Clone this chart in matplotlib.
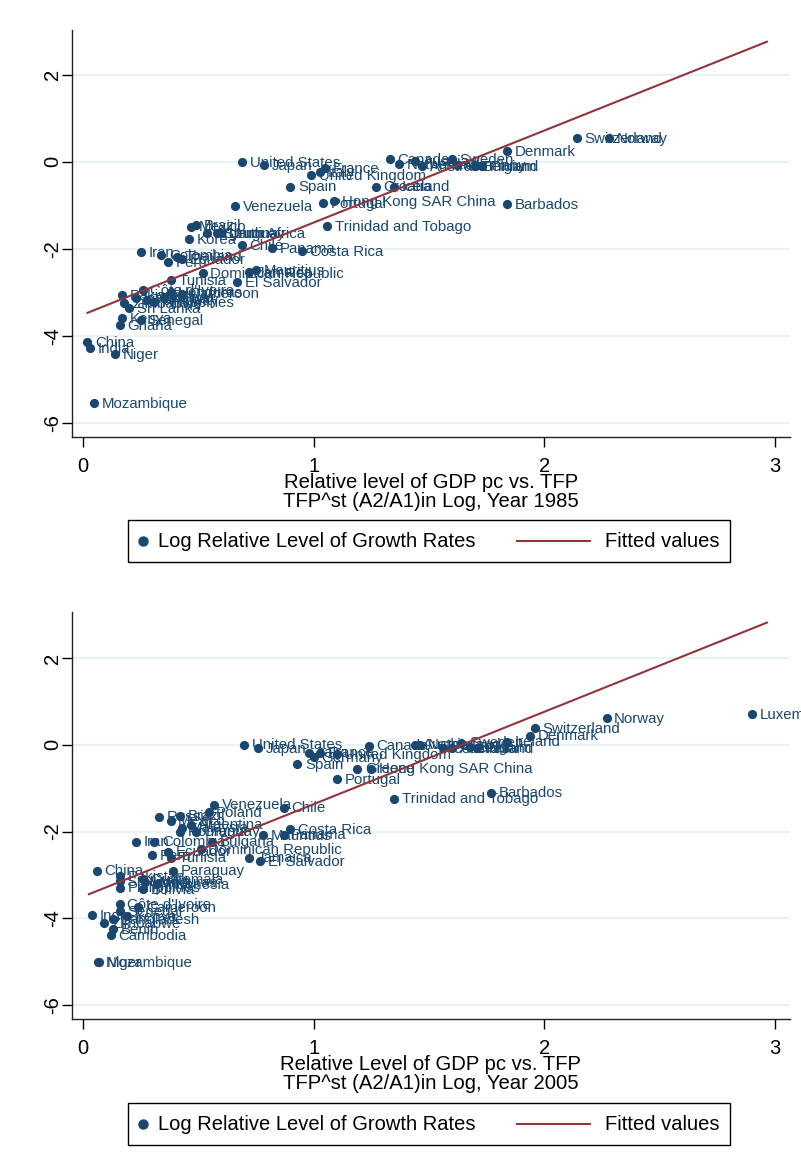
import matplotlib.pyplot as plt
from matplotlib.lines import Line2D
from matplotlib.patches import Rectangle

plt.rcParams['font.family'] = ['Liberation Sans', 'DejaVu Sans']
plt.rcParams['axes.unicode_minus'] = False

# 1985 cross-section
names_1985 = ["United States", "Japan", "France", "Italy", "United Kingdom", "Spain",
              "Venezuela", "Portugal", "Hong Kong SAR China", "Trinidad and Tobago",
              "Croatia", "Iceland", "Canada", "Netherlands", "Austria", "Australia",
              "Sweden", "Germany", "Belgium", "Finland", "Denmark", "Barbados",
              "Switzerland", "Norway", "Brazil", "Mexico", "Argentina", "South Africa",
              "Uruguay", "Korea", "Chile", "Panama", "Costa Rica", "Iran", "Colombia",
              "Thailand", "Ecuador", "Peru", "Dominican Republic", "Jamaica", "Mauritius",
              "Tunisia", "El Salvador", "Côte d'Ivoire", "Honduras", "Cameroon", "Bolivia",
              "Paraguay", "Philippines", "Pakistan", "Indonesia", "Zimbabwe", "Sri Lanka",
              "Senegal", "Kenya", "Ghana", "China", "India", "Niger", "Mozambique"]
x_1985 = [0.69, 0.785, 1.05, 1.03, 0.99, 0.90,
          0.66, 1.04, 1.09, 1.06,
          1.27, 1.35, 1.33, 1.37, 1.44, 1.47,
          1.60, 1.62, 1.70, 1.73, 1.84, 1.84,
          2.14, 2.28, 0.49, 0.47, 0.54, 0.58,
          0.60, 0.46, 0.69, 0.82, 0.95, 0.25, 0.34,
          0.41, 0.43, 0.37, 0.52, 0.72, 0.75,
          0.38, 0.67, 0.26, 0.38, 0.43, 0.35,
          0.28, 0.31, 0.17, 0.23, 0.18, 0.20,
          0.25, 0.17, 0.16, 0.02, 0.03, 0.14, 0.05]
y_1985 = [0.00, -0.07, -0.14, -0.23, -0.30, -0.57,
          -1.01, -0.94, -0.90, -1.47,
          -0.57, -0.57, 0.07, -0.05, 0.02, -0.09,
          0.07, -0.07, -0.09, -0.09, 0.25, -0.97,
          0.55, 0.55, -1.45, -1.49, -1.63, -1.63,
          -1.63, -1.77, -1.91, -1.98, -2.05, -2.07, -2.14,
          -2.18, -2.23, -2.30, -2.55, -2.53, -2.48,
          -2.71, -2.76, -2.94, -2.99, -3.03, -3.10,
          -3.17, -3.22, -3.06, -3.13, -3.24, -3.36,
          -3.63, -3.59, -3.75, -4.14, -4.28, -4.41, -5.54]
fit_1985 = (-3.51, 2.115)      # intercept, slope
span_1985 = (0.02, 2.965)

# 2005 cross-section
names_2005 = ["Luxembourg", "Norway", "Switzerland", "Denmark", "Ireland", "Canada",
              "Austria", "Netherlands", "Iceland", "Australia", "Sweden", "Belgium",
              "Finland", "United States", "Japan", "Italy", "Germany", "France",
              "United Kingdom", "Spain", "Greece", "Hong Kong SAR China", "Portugal",
              "Trinidad and Tobago", "Barbados", "Venezuela", "Chile", "Poland", "Brazil",
              "Russia", "Mexico", "Argentina", "Malaysia", "Romania", "Uruguay",
              "Costa Rica", "Panama", "Mauritius", "Bulgaria", "Colombia", "Iran",
              "Ecuador", "Peru", "Dominican Republic", "Tunisia", "Jamaica", "El Salvador",
              "Paraguay", "China", "Pakistan", "Sri Lanka", "Philippines", "Guatemala",
              "Honduras", "Bolivia", "Indonesia", "Côte d'Ivoire", "Cameroon", "India",
              "Senegal", "Kenya", "Bangladesh", "Zimbabwe", "Benin", "Cambodia",
              "Niger", "Mozambique"]
x_2005 = [2.90, 2.27, 1.96, 1.94, 1.84, 1.24,
          1.44, 1.46, 1.56, 1.60, 1.64, 1.68,
          1.71, 0.70, 0.76, 0.98, 1.00, 1.03,
          1.10, 0.93, 1.19, 1.25, 1.10,
          1.35, 1.77, 0.57, 0.87, 0.545, 0.42,
          0.33, 0.38, 0.47, 0.43, 0.42, 0.49,
          0.90, 0.87, 0.78, 0.56, 0.31, 0.23,
          0.37, 0.30, 0.51, 0.38, 0.72, 0.77,
          0.39, 0.06, 0.16, 0.16, 0.16, 0.26,
          0.27, 0.26, 0.32, 0.16, 0.24, 0.04,
          0.16, 0.19, 0.13, 0.09, 0.13, 0.12,
          0.065, 0.07]
y_2005 = [0.71, 0.62, 0.39, 0.21, 0.07, -0.02,
          0.00, 0.00, -0.07, -0.07, 0.05, -0.05,
          -0.07, 0.00, -0.07, -0.18, -0.28, -0.18,
          -0.21, -0.44, -0.55, -0.55, -0.80,
          -1.24, -1.10, -1.38, -1.45, -1.56, -1.63,
          -1.66, -1.75, -1.84, -1.91, -2.00, -2.00,
          -1.95, -2.07, -2.09, -2.23, -2.23, -2.23,
          -2.46, -2.55, -2.41, -2.60, -2.60, -2.69,
          -2.90, -2.90, -3.03, -3.15, -3.29, -3.10,
          -3.17, -3.33, -3.22, -3.68, -3.75, -3.93,
          -3.84, -3.95, -4.02, -4.11, -4.25, -4.39,
          -5.01, -5.01]
fit_2005 = (-3.50, 2.13)
span_2005 = (0.026, 2.965)

NAVY = '#1a476f'
MAROON = '#90353b'
GRID = '#eaf2f3'
W, H = 801, 1162


def fx(px):
    return px / W


def fy(py):
    return 1 - py / H


def panel(fig, top, names, xs, ys, fit, span, xtitle, ylim, leg_top):
    ax = fig.add_axes([fx(72), fy(top + 407), fx(790) - fx(72), 407 / H])
    ax.set_xlim(-0.047, 3.065)
    ax.set_ylim(*ylim)
    ax.set_xticks([0, 1, 2, 3])
    ax.set_yticks([-6, -4, -2, 0, 2])
    ax.grid(axis='y', color=GRID, lw=1.6)
    ax.set_axisbelow(True)
    for s in ('top', 'right'):
        ax.spines[s].set_visible(False)
    for s in ('left', 'bottom'):
        ax.spines[s].set_color('#222222')
        ax.spines[s].set_linewidth(1.0)
    ax.tick_params(direction='out', length=7, width=1.0, labelsize=14.5)
    ax.tick_params(axis='x', pad=7.5)
    ax.tick_params(axis='y', pad=0)
    for lab in ax.get_yticklabels():
        lab.set_rotation(90)
        lab.set_va('center')

    ax.scatter(xs, ys, s=44, color=NAVY, zorder=3, linewidths=0)
    for n, x, y in zip(names, xs, ys):
        ax.annotate(n, (x, y), xytext=(5.5, -0.5), textcoords='offset points',
                    ha='left', va='center', fontsize=10.8, color=NAVY,
                    zorder=3, annotation_clip=False)
    a, b = fit
    ax.plot(span, [a + b * span[0], a + b * span[1]], color=MAROON, lw=1.5, zorder=4)

    ax.set_xlabel(xtitle, fontsize=14.6, linespacing=0.95, labelpad=-2)

    # legend box
    fig.add_artist(Rectangle((fx(128), fy(leg_top + 42)), fx(730) - fx(128), 42 / H,
                             transform=fig.transFigure, fill=False, ec='black', lw=1.0))
    cy = leg_top + 21
    fig.add_artist(Line2D([fx(143)], [fy(cy)], marker='o', ms=6.5, color=NAVY, ls='none',
                          transform=fig.transFigure))
    fig.text(fx(158), fy(cy), "Log Relative Level of Growth Rates", fontsize=14.5,
             va='center', ha='left')
    fig.add_artist(Line2D([fx(517), fx(590)], [fy(cy), fy(cy)], color=MAROON, lw=1.5,
                          transform=fig.transFigure))
    fig.text(fx(605), fy(cy), "Fitted values", fontsize=14.5, va='center', ha='left')
    return ax


fig = plt.figure(figsize=(W / 100, H / 100), dpi=100)
panel(fig, 30, names_1985, x_1985, y_1985, fit_1985, span_1985,
      "Relative level of GDP pc vs. TFP\nTFP^st (A2/A1)in Log, Year 1985", (-6.32, 3.03), 520)
panel(fig, 612, names_2005, x_2005, y_2005, fit_2005, span_2005,
      "Relative Level of GDP pc vs. TFP\nTFP^st (A2/A1)in Log, Year 2005", (-6.32, 3.06), 1103)
fig.savefig('out.png', dpi=100, facecolor='white')
